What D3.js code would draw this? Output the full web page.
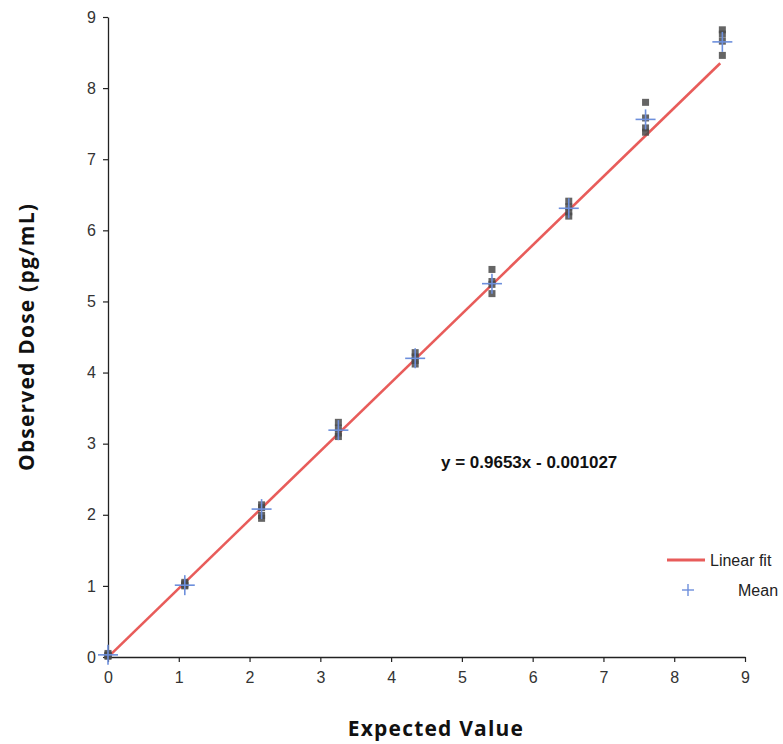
<!DOCTYPE html>
<html>
<head>
<meta charset="utf-8">
<script src="https://cdn.jsdelivr.net/npm/d3@7"></script>
<style>
  body { margin: 0; background: #fff; }
  svg { display: block; }
</style>
</head>
<body>
<div id="chart"></div>
<script>
// Data
const expected = [0, 1.085, 2.17, 3.255, 4.34, 5.425, 6.51, 7.595, 8.68];
const observed = [
  [0.05, 0.03, 0.02, 0.01],
  [1.05, 1.03, 1.01, 1.00],
  [2.14, 2.10, 1.99, 1.95],
  [3.30, 3.22, 3.15, 3.10],
  [4.28, 4.22, 4.17, 4.12],
  [5.45, 5.28, 5.24, 5.11],
  [6.41, 6.33, 6.26, 6.20],
  [7.80, 7.58, 7.44, 7.38],
  [8.82, 8.76, 8.66, 8.46]
];
const means = [0.03, 1.01, 2.08, 3.19, 4.20, 5.25, 6.31, 7.56, 8.65];
const slope = 0.9653, intercept = -0.001027;
const xTicks = [0, 1, 2, 3, 4, 5, 6, 7, 8, 9];
const yTicks = [0, 1, 2, 3, 4, 5, 6, 7, 8, 9];

const W = 783, H = 744;
const margin = { top: 17, right: 38, bottom: 87, left: 108 };
const width = W - margin.left - margin.right;
const height = H - margin.top - margin.bottom;

const svg = d3.select("#chart").append("svg")
  .attr("width", W).attr("height", H);
const g = svg.append("g").attr("transform", `translate(${margin.left},${margin.top})`);

const x = d3.scaleLinear().domain([0, 9]).range([0, width]);
const y = d3.scaleLinear().domain([0, 9]).range([height, 0]);

// Axes
const xAxis = g.append("g")
  .attr("transform", `translate(0,${height})`)
  .call(d3.axisBottom(x).tickValues(xTicks).tickSize(5).tickSizeOuter(0));
const yAxis = g.append("g")
  .call(d3.axisLeft(y).tickValues(yTicks).tickSize(5).tickSizeOuter(0));

[xAxis, yAxis].forEach(a => {
  a.select(".domain").attr("stroke", "#222").attr("stroke-width", 1.3);
  a.selectAll(".tick line").attr("stroke", "#222").attr("stroke-width", 1.2);
  a.selectAll(".tick text")
    .attr("fill", "#333")
    .style("font-family", "Liberation Sans, Arial, sans-serif")
    .style("font-size", "16px");
});
xAxis.selectAll(".tick text").attr("dy", "1.1em");
yAxis.selectAll(".tick text").attr("x", -12);

// Linear fit line
const fit = d3.line().x(d => x(d)).y(d => y(slope * d + intercept));
g.append("path")
  .datum([0, 8.65])
  .attr("fill", "none")
  .attr("stroke", "#e85c5a")
  .attr("stroke-width", 2.6)
  .attr("d", fit);

// Observations
const pts = [];
expected.forEach((e, i) => observed[i].forEach(v => pts.push({ x: e, y: v })));
const s = 7;
g.selectAll("rect.obs")
  .data(pts)
  .enter().append("rect")
  .attr("class", "obs")
  .attr("x", d => x(d.x) - s / 2)
  .attr("y", d => y(d.y) - s / 2)
  .attr("width", s).attr("height", s)
  .attr("fill", "#4a4a4a")
  .attr("fill-opacity", 0.85);

// Means as plus signs
const ms = 10;
const meanG = g.selectAll("g.mean")
  .data(expected.map((e, i) => ({ x: e, y: means[i] })))
  .enter().append("g")
  .attr("class", "mean")
  .attr("transform", d => `translate(${x(d.x)},${y(d.y)})`);
meanG.append("line").attr("x1", -ms).attr("x2", ms).attr("y1", 0).attr("y2", 0);
meanG.append("line").attr("x1", 0).attr("x2", 0).attr("y1", -ms).attr("y2", ms);
meanG.selectAll("line").attr("stroke", "#6d8fdc").attr("stroke-width", 1.6);

// Equation
svg.append("text")
  .attr("x", 441).attr("y", 468)
  .style("font-family", "Liberation Sans, Arial, sans-serif")
  .style("font-size", "17px")
  .style("font-weight", "bold")
  .attr("fill", "#111")
  .text("y = 0.9653x - 0.001027");

// Legend
const legend = svg.append("g").attr("transform", "translate(667,560)");
legend.append("line")
  .attr("x1", 0).attr("x2", 38).attr("y1", 0).attr("y2", 0)
  .attr("stroke", "#e85c5a").attr("stroke-width", 3);
legend.append("text")
  .attr("x", 43).attr("y", 6)
  .style("font-family", "Liberation Sans, Arial, sans-serif")
  .style("font-size", "16px")
  .attr("fill", "#222")
  .text("Linear fit");
legend.append("line").attr("x1", 15).attr("x2", 27).attr("y1", 30).attr("y2", 30);
legend.append("line").attr("x1", 21).attr("x2", 21).attr("y1", 24).attr("y2", 36);
legend.selectAll("line:not(:first-child)").attr("stroke", "#6d8fdc").attr("stroke-width", 1.4);
legend.append("text")
  .attr("x", 71).attr("y", 36)
  .style("font-family", "Liberation Sans, Arial, sans-serif")
  .style("font-size", "16px")
  .attr("fill", "#222")
  .text("Mean");

// Axis titles
svg.append("text")
  .attr("x", 436).attr("y", 736)
  .attr("text-anchor", "middle")
  .style("font-family", "Open Sans, sans-serif")
  .style("font-size", "21px")
  .style("font-weight", "bold")
  .style("letter-spacing", "1.2px")
  .attr("fill", "#111")
  .text("Expected Value");

svg.append("text")
  .attr("transform", "translate(34,337) rotate(-90)")
  .attr("text-anchor", "middle")
  .style("font-family", "Open Sans, sans-serif")
  .style("font-size", "21px")
  .style("font-weight", "bold")
  .style("letter-spacing", "1.2px")
  .attr("fill", "#111")
  .text("Observed Dose (pg/mL)");
</script>
</body>
</html>
